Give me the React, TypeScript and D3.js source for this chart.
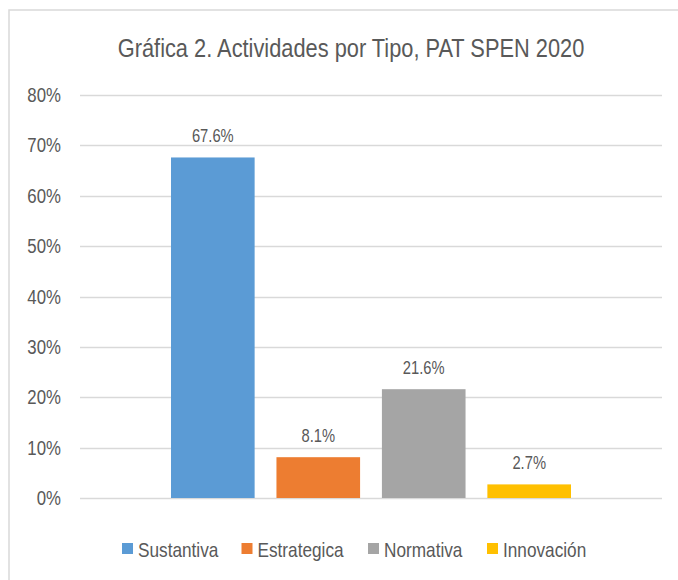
import React from "react";
import * as d3 from "d3";

const title = "Gráfica 2. Actividades por Tipo, PAT SPEN 2020";
const seriesNames = ["Sustantiva", "Estrategica", "Normativa", "Innovación"];
const seriesValues = [0.676, 0.081, 0.216, 0.027];
const seriesColors = ["#5B9BD5", "#ED7D31", "#A5A5A5", "#FFC000"];
const categories = ["Actividades"];
const yTicks = [0, 0.1, 0.2, 0.3, 0.4, 0.5, 0.6, 0.7, 0.8];

const FONT = "'Liberation Sans Narrow', 'Arial Narrow', 'Liberation Sans', Arial, sans-serif";
const TEXT = "#595959";
const NARROW = 0.82;

function NText(props: { x: number; y: number; size: number; anchor?: string; children: React.ReactNode }) {
  const { x, y, size, anchor = "start", children } = props;
  return (
    <text transform={`translate(${x},${y}) scale(${NARROW},1)`} x={0} y={0} textAnchor={anchor} fontSize={size} fill={TEXT}>
      {children}
    </text>
  );
}

export default function App() {
  const W = 678, H = 580;
  const plotLeft = 80, plotRight = 662, plotTop = 95, plotBottom = 498;
  const y = d3.scaleLinear().domain([0, 0.8]).range([plotBottom, plotTop]);
  const x0 = d3.scaleBand<string>().domain(categories).range([plotLeft, plotRight]).paddingInner(0).paddingOuter(0.2275);
  const x1 = d3.scaleBand<string>().domain(seriesNames).range([0, x0.bandwidth()]).paddingInner(0.207).paddingOuter(0);
  const pct = d3.format(".0%");
  const lbl = d3.format(".1%");

  const legendX = [122, 241.5, 368, 487];

  return (
    <svg width={W} height={H} style={{ position: "absolute", left: 0, top: 0, background: "#fff" }} fontFamily={FONT}>
      <rect x={9} y={10} width={W} height={H} fill="#fff" stroke="#d9d9d9" strokeWidth={1.5} />
      <NText x={351} y={57} size={26.6} anchor="middle">{title}</NText>
      {yTicks.map((t) => (
        <g key={t}>
          <line x1={plotLeft} x2={plotRight} y1={Math.round(y(t)) + 0.5} y2={Math.round(y(t)) + 0.5} stroke="#d9d9d9" strokeWidth={1.5} />
          <NText x={61} y={y(t) + 7} size={20.5} anchor="end">{pct(t)}</NText>
        </g>
      ))}
      {categories.map((c) => (
        <g key={c} transform={`translate(${x0(c)},0)`}>
          {seriesNames.map((s, i) => (
            <g key={s}>
              <rect x={x1(s)} y={y(seriesValues[i])} width={x1.bandwidth()} height={y(0) - y(seriesValues[i])} fill={seriesColors[i]} />
              <NText x={(x1(s) as number) + x1.bandwidth() / 2} y={y(seriesValues[i]) - 15} size={18} anchor="middle">{lbl(seriesValues[i])}</NText>
            </g>
          ))}
        </g>
      ))}
      {seriesNames.map((s, i) => (
        <g key={s} transform={`translate(${legendX[i]},543)`}>
          <rect x={0} y={0} width={11} height={11} fill={seriesColors[i]} />
          <NText x={16} y={14} size={21}>{s}</NText>
        </g>
      ))}
    </svg>
  );
}
